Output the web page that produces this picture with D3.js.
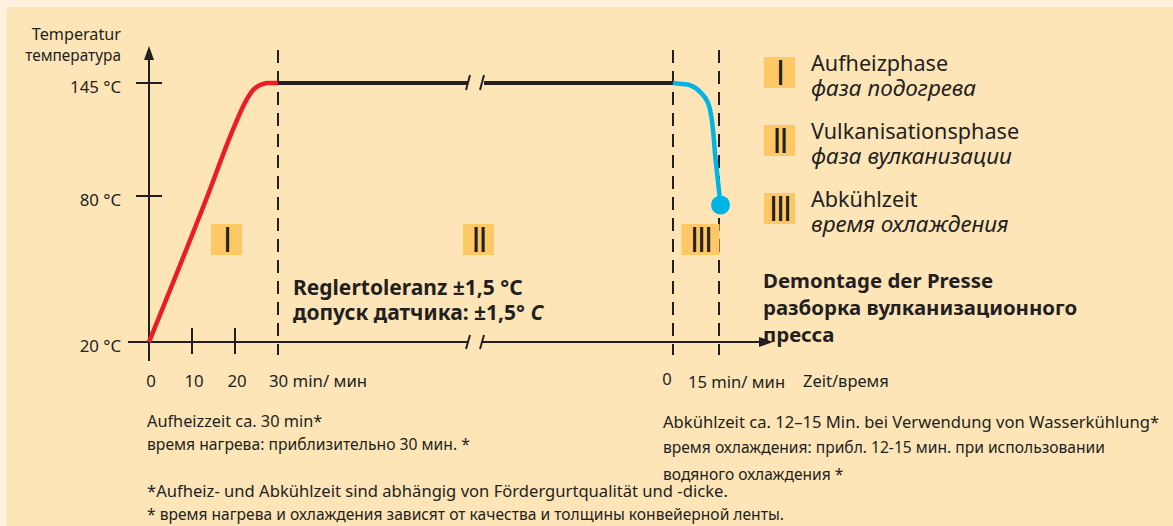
<!DOCTYPE html>
<html>
<head>
<meta charset="utf-8">
<script src="https://cdn.jsdelivr.net/npm/d3@7"></script>
<style>
  body { margin: 0; background: #fef0dc; }
  svg { display: block; }
  text { font-family: "Noto Sans", sans-serif; fill: #231f20; }
</style>
</head>
<body>
<svg id="chart" width="1173" height="526"></svg>
<script>
// heating phase (min, °C)
const heatTime = [0, 13.6, 19.5, 22.6, 24.2, 26, 27.5, 30];
const heatTemp = [20, 80, 118, 135, 141, 144, 145, 145];
// cooling phase (min, °C)
const coolTime = [0, 5.5, 9.8, 12.1, 13.9, 15.5];
const coolTemp = [145, 143.8, 138, 129.5, 100.7, 76.3];

const tempTicks = [20, 80, 145];
const heatTicks = [0, 10, 20, 30];
const heatTickLabels = ["0", "10", "20", "30 min/ мин"];
const coolTicks = [0, 15];
const coolTickLabels = ["0", "15 min/ мин"];

const phases = ["I", "II", "III"];
const phaseNames = ["Aufheizphase", "Vulkanisationsphase", "Abkühlzeit"];
const phaseNamesRu = ["фаза подогрева", "фаза вулканизации", "время охлаждения"];

const dark = "#231f20";
const svg = d3.select("#chart");

// panel
svg.append("rect").attr("x", 7).attr("y", 7).attr("width", 1166).attr("height", 519).attr("fill", "#fee5b8");

// scales (the chart is schematic, so temperature is piecewise)
const y = d3.scaleLinear().domain([20, 80, 145]).range([342, 196, 83]);
const xHeat = d3.scaleLinear().domain([0, 30]).range([149, 278]);
const xCool = d3.scaleLinear().domain([0, 15]).range([673, 719]);

// dashed phase borders
const borders = [xHeat(30), xCool(0), xCool(15)];
svg.selectAll(".border")
  .data(borders)
  .enter()
  .append("line")
  .attr("x1", d => d).attr("x2", d => d)
  .attr("y1", 50).attr("y2", 355)
  .attr("stroke", dark)
  .attr("stroke-width", 2)
  .attr("stroke-dasharray", "13 8");

// axes
const breakL = 468, breakR = 482;
svg.append("line").attr("x1", xHeat(0)).attr("x2", xHeat(0)).attr("y1", 58).attr("y2", 361)
  .attr("stroke", dark).attr("stroke-width", 2);
svg.append("path").attr("d", `M${xHeat(0)},46 L${xHeat(0) - 5},60 L${xHeat(0) + 5},60 Z`).attr("fill", dark);

svg.append("line").attr("x1", 128).attr("x2", breakL).attr("y1", y(20)).attr("y2", y(20))
  .attr("stroke", dark).attr("stroke-width", 2);
svg.append("line").attr("x1", breakR).attr("x2", 760).attr("y1", y(20)).attr("y2", y(20))
  .attr("stroke", dark).attr("stroke-width", 2);
svg.append("path").attr("d", `M773,${y(20)} L759,${y(20) - 5} L759,${y(20) + 5} Z`).attr("fill", dark);

// axis breaks
[breakL, breakR].forEach(bx => {
  svg.append("line").attr("x1", bx - 2).attr("x2", bx + 2).attr("y1", y(20) + 7).attr("y2", y(20) - 7)
    .attr("stroke", dark).attr("stroke-width", 2);
});

// y ticks
svg.selectAll(".ytick")
  .data(tempTicks.filter(d => d !== 20))
  .enter()
  .append("line")
  .attr("x1", 136).attr("x2", 162)
  .attr("y1", d => y(d)).attr("y2", d => y(d))
  .attr("stroke", dark).attr("stroke-width", 2);

svg.selectAll(".ylabel")
  .data(tempTicks)
  .enter()
  .append("text")
  .attr("x", 121)
  .attr("y", d => y(d) + 9.5)
  .attr("text-anchor", "end")
  .style("font-size", "16.8px")
  .text(d => `${d} °C`);

svg.append("text").attr("x", 121).attr("y", 40).attr("text-anchor", "end")
  .style("font-size", "16.2px").text("Temperatur");
svg.append("text").attr("x", 121).attr("y", 61).attr("text-anchor", "end")
  .style("font-size", "15.4px").text("температура");

// x ticks
svg.selectAll(".xtick")
  .data(heatTicks.filter(d => d > 0 && d < 30))
  .enter()
  .append("line")
  .attr("x1", d => xHeat(d)).attr("x2", d => xHeat(d))
  .attr("y1", 328).attr("y2", 354)
  .attr("stroke", dark).attr("stroke-width", 2);

svg.selectAll(".xlabel")
  .data(heatTicks)
  .enter()
  .append("text")
  .attr("x", (d, i) => i === 3 ? xHeat(d) - 9 : xHeat(d) + 2)
  .attr("y", 387)
  .attr("text-anchor", (d, i) => i === 3 ? "start" : "middle")
  .style("font-size", "16.8px")
  .text((d, i) => heatTickLabels[i]);

svg.selectAll(".clabel")
  .data(coolTicks)
  .enter()
  .append("text")
  .attr("x", (d, i) => i === 1 ? xCool(d) - 31 : xCool(d) - 6)
  .attr("y", (d, i) => i === 1 ? 388 : 385)
  .attr("text-anchor", (d, i) => i === 1 ? "start" : "middle")
  .style("font-size", "16.6px")
  .text((d, i) => coolTickLabels[i]);

svg.append("text").attr("x", 803).attr("y", 387).style("font-size", "16.5px").text("Zeit/время");

// plateau (vulcanization) with break
const plateauY = y(heatTemp[heatTemp.length - 1]);
svg.append("line").attr("x1", xHeat(30)).attr("x2", breakL).attr("y1", plateauY).attr("y2", plateauY)
  .attr("stroke", dark).attr("stroke-width", 4);
svg.append("line").attr("x1", breakR + 2).attr("x2", xCool(0)).attr("y1", plateauY).attr("y2", plateauY)
  .attr("stroke", dark).attr("stroke-width", 4);
[breakL, breakR].forEach(bx => {
  svg.append("line").attr("x1", bx - 2).attr("x2", bx + 2).attr("y1", plateauY + 7).attr("y2", plateauY - 8)
    .attr("stroke", dark).attr("stroke-width", 2);
});

// heating curve
const heatData = heatTime.map((t, i) => ({ t, T: heatTemp[i] }));
svg.append("path")
  .datum(heatData)
  .attr("fill", "none")
  .attr("stroke", "#ed1c24")
  .attr("stroke-width", 4.5)
  .attr("d", d3.line().x(d => xHeat(d.t)).y(d => y(d.T)).curve(d3.curveMonotoneX));

// cooling curve
const coolData = coolTime.map((t, i) => ({ t, T: coolTemp[i] }));
svg.append("path")
  .datum(coolData)
  .attr("fill", "none")
  .attr("stroke", "#00b4e4")
  .attr("stroke-width", 4.5)
  .attr("d", d3.line().x(d => xCool(d.t)).y(d => y(d.T)).curve(d3.curveMonotoneY));
const last = coolData[coolData.length - 1];
svg.append("circle").attr("cx", xCool(last.t)).attr("cy", y(last.T)).attr("r", 9.5).attr("fill", "#00b4e4");

// phase badges in the chart
const badgeX = [226.5, 478.5, 700.5];
function badge(g, cx, cy, label, w) {
  g.append("rect").attr("x", cx - w / 2).attr("y", cy - 15.5).attr("width", w).attr("height", 31)
    .attr("fill", "#fec964");
  g.append("text").attr("x", cx).attr("y", cy + 12.5).attr("text-anchor", "middle")
    .style("font-family", "'DejaVu Sans Condensed', 'DejaVu Sans', sans-serif")
    .style("font-size", "34px").style("letter-spacing", "-2px")
    .text(label);
}
phases.forEach((p, i) => badge(svg, badgeX[i], 239.5, p, i === 2 ? 38 : 31));

// legend
phases.forEach((p, i) => {
  const ly = 72.5 + i * 68;
  badge(svg, 779.5, ly, p, 31);
  svg.append("text").attr("x", 811).attr("y", ly - 1.5).style("font-size", "21.6px").text(phaseNames[i]);
  svg.append("text").attr("x", 811).attr("y", ly + 23).style("font-size", "22.5px")
    .style("font-style", "italic").text(phaseNamesRu[i]);
});

// notes
const bold = (x, yy, s, fs) => svg.append("text").attr("x", x).attr("y", yy)
  .style("font-size", fs + "px").style("font-weight", "bold").text(s);
bold(293, 295, "Reglertoleranz ±1,5 °C", 21);
bold(293, 320, "допуск датчика: ±1,5° ", 21)
  .append("tspan").style("font-style", "italic").text("C");
bold(763, 288, "Demontage der Presse", 20.4);
bold(763, 315, "разборка вулканизационного", 20.4);
bold(763, 342, "пресса", 20.4);

const note = (x, yy, s, fs) => svg.append("text").attr("x", x).attr("y", yy)
  .style("font-size", fs + "px").text(s);
note(147, 427, "Aufheizzeit ca. 30 min*", 16.3);
note(147, 450, "время нагрева: приблизительно 30 мин. *", 15.7);
note(147, 497, "*Aufheiz- und Abkühlzeit sind abhängig von Fördergurtqualität und -dicke.", 16.6);
note(147, 520, "* время нагрева и охлаждения зависят от качества и толщины конвейерной ленты.", 15.6);
note(663, 428, "Abkühlzeit ca. 12–15 Min. bei Verwendung von Wasserkühlung*", 16.6);
note(663, 453, "время охлаждения: прибл. 12-15 мин. при использовании", 15.6);
note(663, 480, "водяного охлаждения *", 15.6);
</script>
</body>
</html>
